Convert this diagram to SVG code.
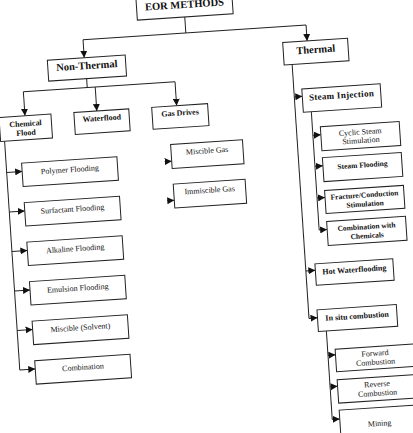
<svg xmlns="http://www.w3.org/2000/svg" width="413" height="433" viewBox="0 0 413 433">
<defs>
<style>
.box{fill:#fff;stroke:#222;stroke-width:1}
.b{font-family:"Liberation Serif","Times New Roman",serif;font-weight:bold;text-anchor:middle;fill:#111}
.r{font-family:"Liberation Serif","Times New Roman",serif;font-weight:normal;text-anchor:middle;fill:#111;font-size:8px}
.s8{font-size:8px}
.s75{font-size:7.5px}
.s10{font-size:10.5px}
#connectors path{fill:none;stroke:#222;stroke-width:1}
#connectors path.a{marker-end:url(#ah)}
</style>
<marker id="ah" markerWidth="7" markerHeight="7" refX="7" refY="3.5" orient="auto" markerUnits="userSpaceOnUse">
<path d="M0,0 L7,3.5 L0,7 Z" fill="#111"/>
</marker>
</defs>
<rect width="413" height="433" fill="#fff"/>
<g transform="rotate(-3.8 206 216)">
<g id="connectors">
<path d="M198,16 V32 M95,32 H318.5"/>
<path class="a" d="M95,32 V50"/>
<path class="a" d="M318.5,32 V48"/>
<path d="M96,71 V80 M32,80 H184"/>
<path class="a" d="M32,80 V104"/>
<path class="a" d="M104,80 V104"/>
<path class="a" d="M184,80 V104"/>
<path d="M10,128 V357.3"/>
<path class="a" d="M10,159.3 H25.5"/>
<path class="a" d="M10,198.9 H25.5"/>
<path class="a" d="M10,238.5 H25.5"/>
<path class="a" d="M10,278.1 H25.5"/>
<path class="a" d="M10,317.7 H25.5"/>
<path class="a" d="M10,357.3 H25.5"/>
<path class="a" d="M168.4,159 H175.4"/>
<path class="a" d="M168.4,198.2 H175.4"/>
<path d="M302,70.5 V325"/>
<path class="a" d="M302,103 H310"/>
<path class="a" d="M302,277.5 H311.5"/>
<path class="a" d="M302,325 H310.5"/>
<path d="M318,119 V237.5"/>
<path class="a" d="M318,142.5 H326"/>
<path class="a" d="M318,173.7 H326"/>
<path class="a" d="M318,205.4 H326"/>
<path class="a" d="M318,237.5 H326"/>
<path d="M318.5,338.7 V427.3"/>
<path class="a" d="M318.5,363 H326"/>
<path class="a" d="M318.5,394.7 H326"/>
<path class="a" d="M318.5,427.3 H326"/>
</g>
<g id="eor"><rect class="box" x="150.5" y="-10" width="96" height="26"/><text class="b s10" x="198.5" y="7">EOR METHODS</text></g>
<g id="nonthermal"><rect class="box" x="58" y="50" width="78" height="21"/><text class="b s10" x="97" y="61.5">Non-Thermal</text></g>
<g id="thermal"><rect class="box" x="294" y="48" width="65" height="22.5"/><text class="b s10" x="326.5" y="60.5">Thermal</text></g>
<g id="chemical"><rect class="box" x="6" y="104" width="52" height="24"/><text class="b s8" x="32" y="114.5">Chemical</text><text class="b s8" x="32" y="123.5">Flood</text></g>
<g id="waterflood"><rect class="box" x="81" y="104" width="55" height="22"/><text class="b s8" x="108.5" y="114">Waterflood</text></g>
<g id="gasdrives"><rect class="box" x="159" y="104" width="56" height="22"/><text class="b s8" x="187" y="114">Gas Drives</text></g>
<g id="polymer"><rect class="box" x="25.5" y="151" width="95.5" height="23.5"/><text class="r" x="73.25" y="163.3">Polymer Flooding</text></g>
<g id="surfactant"><rect class="box" x="25.5" y="190.6" width="95.5" height="23.5"/><text class="r" x="73.25" y="202.9">Surfactant Flooding</text></g>
<g id="alkaline"><rect class="box" x="25.5" y="230.2" width="95.5" height="23.5"/><text class="r" x="73.25" y="242.5">Alkaline Flooding</text></g>
<g id="emulsion"><rect class="box" x="25.5" y="269.8" width="95.5" height="23.5"/><text class="r" x="73.25" y="282.1">Emulsion Flooding</text></g>
<g id="miscible-solvent"><rect class="box" x="25.5" y="309.4" width="95.5" height="23.5"/><text class="r" x="73.25" y="321.7">Miscible (Solvent)</text></g>
<g id="combination"><rect class="box" x="25.5" y="349" width="95.5" height="23.5"/><text class="r" x="73.25" y="361.3">Combination</text></g>
<g id="miscible-gas"><rect class="box" x="175.4" y="142.4" width="72" height="24"/><text class="r" x="211.4" y="153.5">Miscible Gas</text></g>
<g id="immiscible-gas"><rect class="box" x="175.4" y="182" width="72" height="24"/><text class="r" x="211.4" y="193">Immiscible Gas</text></g>
<g id="steam-injection"><rect class="box" x="310" y="95.6" width="78.5" height="23.4"/><text class="b" font-size="9" letter-spacing="0.3" x="349.2" y="107.5">Steam Injection</text></g>
<g id="cyclic"><rect class="box" x="326" y="134.5" width="79" height="24"/><text class="r" x="365.5" y="145">Cyclic Steam</text><text class="r" x="365.5" y="153.5">Stimulation</text></g>
<g id="steam-flooding"><rect class="box" x="326" y="165.5" width="79" height="24"/><text class="b s75" x="365.5" y="178">Steam Flooding</text></g>
<g id="fracture"><rect class="box" x="326" y="198.5" width="79" height="23"/><text class="b s75" x="365.5" y="208">Fracture/Conduction</text><text class="b s75" x="365.5" y="217">Stimulation</text></g>
<g id="combination-chem"><rect class="box" x="326" y="229.5" width="79" height="24"/><text class="b s75" x="365.5" y="239.8">Combination with</text><text class="b s75" x="365.5" y="248.8">Chemicals</text></g>
<g id="hot-water"><rect class="box" x="311.5" y="271" width="78" height="21.5"/><text class="b s8" x="350.5" y="282">Hot Waterflooding</text></g>
<g id="insitu"><rect class="box" x="310.5" y="317" width="79.5" height="21.7"/><text class="b s8" x="350.2" y="328.5">In situ combustion</text></g>
<g id="forward"><rect class="box" x="326" y="357.5" width="79" height="22.5"/><text class="r" x="365.5" y="366.7">Forward</text><text class="r" x="365.5" y="375.7">Combustion</text></g>
<g id="reverse"><rect class="box" x="326" y="388" width="79" height="23.5"/><text class="r" x="365.5" y="397.7">Reverse</text><text class="r" x="365.5" y="406.7">Combustion</text></g>
<g id="mining"><rect class="box" x="326" y="418.5" width="79" height="30"/><text class="r" x="365.5" y="437">Mining</text></g>
</g>
</svg>
